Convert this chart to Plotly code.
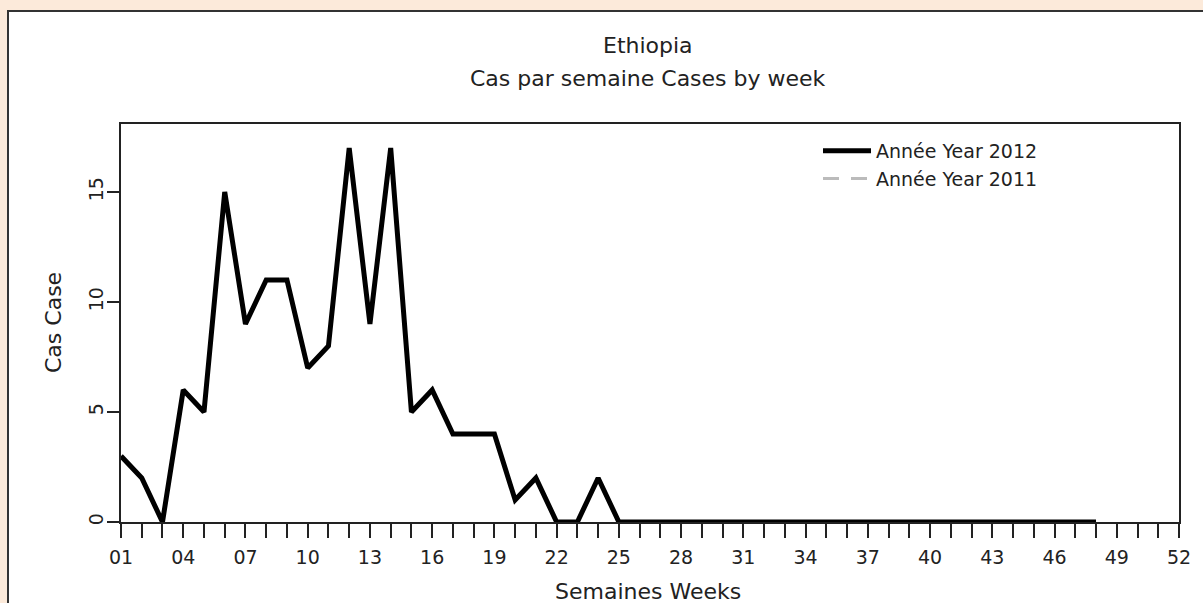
import plotly.graph_objects as go

# ---- data ----
weeks_2012 = list(range(1, 49))
cases_2012 = [3, 2, 0, 6, 5, 15, 9, 11, 11, 7, 8, 17, 9, 17, 5, 6, 4, 4, 4, 1,
              2, 0, 0, 2, 0, 0, 0, 0, 0, 0, 0, 0, 0, 0, 0, 0, 0, 0, 0, 0,
              0, 0, 0, 0, 0, 0, 0, 0]
weeks_2011 = [1]
cases_2011 = [None]          # no 2011 cases drawn in the reference
all_weeks = list(range(1, 53))
week_labels = [f"{w:02d}" if (w - 1) % 3 == 0 else "" for w in all_weeks]
y_ticks = [0, 5, 10, 15]

# ---- geometry (pixels) ----
W, H = 1203, 603
L, R, T, B = 121, 1179, 124, 522
pw, ph = R - L, B - T
def px(x):
    return (x - L) / pw
def py(y):
    return (B - y) / ph

FONT = "DejaVu Sans"
INK = "#222222"

fig = go.Figure()
fig.add_trace(go.Scatter(
    x=weeks_2012, y=cases_2012, mode="lines", name="Année Year 2012",
    line=dict(color="black", width=5), hoverinfo="x+y"))
fig.add_trace(go.Scatter(
    x=weeks_2011, y=cases_2011, mode="lines", name="Année Year 2011",
    line=dict(color="#BBBBBB", width=3, dash="16px,12px")))

fig.update_layout(
    width=W, height=H,
    margin=dict(l=L, r=W - R, t=T, b=H - B, autoexpand=False),
    paper_bgcolor="#FCEADA",
    plot_bgcolor="white",
    font=dict(family=FONT, size=19, color=INK),
    showlegend=True,
    legend=dict(x=px(818), y=py(132), xanchor="left", yanchor="top",
                bgcolor="rgba(0,0,0,0)", font=dict(size=19, color=INK),
                itemwidth=48, tracegroupgap=0),
    xaxis=dict(range=[1, 52], tickmode="array", tickvals=all_weeks,
               ticktext=week_labels, ticks="outside", ticklen=14, tickwidth=2,
               tickcolor=INK, showline=True, linewidth=2, linecolor=INK,
               mirror=True, showgrid=False, zeroline=False,
               tickfont=dict(size=19), tickangle=0, ticklabelstandoff=3),
    yaxis=dict(range=[0, 18.09], tickmode="array", tickvals=y_ticks,
               ticks="outside", ticklen=12, tickwidth=2, tickcolor=INK,
               showline=True, linewidth=2, linecolor=INK, mirror=True,
               showgrid=False, zeroline=False, tickangle=-90,
               tickfont=dict(size=19), ticklabelstandoff=-4),
)

fig.add_shape(type="rect", xref="paper", yref="paper",
              x0=px(8), x1=px(1215), y0=py(620), y1=py(11),
              fillcolor="white", line=dict(color="#333333", width=2),
              layer="below")

fig.add_annotation(text="Ethiopia", xref="paper", yref="paper",
                   x=px(648), y=py(46), showarrow=False,
                   font=dict(size=22), xanchor="center", yanchor="middle")
fig.add_annotation(text="Cas par semaine Cases by week", xref="paper", yref="paper",
                   x=px(648), y=py(78), showarrow=False,
                   font=dict(size=22), xanchor="center", yanchor="middle")
fig.add_annotation(text="Semaines Weeks", xref="paper", yref="paper",
                   x=px(648), y=py(591), showarrow=False,
                   font=dict(size=22), xanchor="center", yanchor="middle")
fig.add_annotation(text="Cas Case", xref="paper", yref="paper",
                   x=px(53), y=py(323), showarrow=False, textangle=-90,
                   font=dict(size=22), xanchor="center", yanchor="middle")

fig.write_html("out.html", config={"displayModeBar": False},
               post_script="document.body.style.margin='0px';")
